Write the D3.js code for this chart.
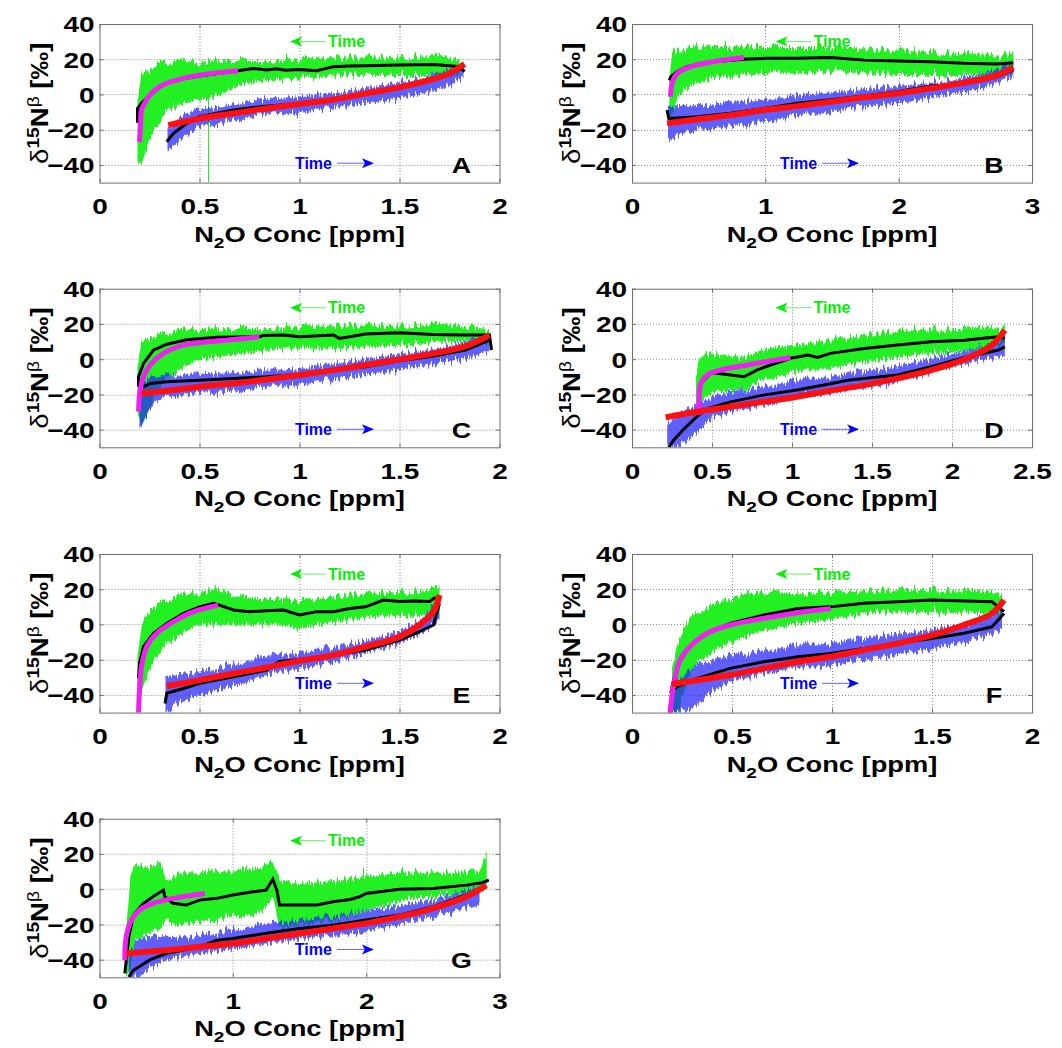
<!DOCTYPE html>
<html>
<head>
<meta charset="utf-8">
<script src="https://cdn.jsdelivr.net/npm/d3@7"></script>
<style>
body { margin: 0; background: #fff; }
svg text { font-family: "Liberation Sans", Arial, sans-serif; }
</style>
</head>
<body>
<div id="container"></div>
<script>
var width = 1062,
    height = 1048;

// ---- data ----
var panelLabels = ["A", "B", "C", "D", "E", "F", "G"];
var xMax = [2, 3, 2, 2.5, 2, 2, 3];
var xTicks = [
    [0, 0.5, 1, 1.5, 2], [0, 1, 2, 3], [0, 0.5, 1, 1.5, 2], [0, 0.5, 1, 1.5, 2, 2.5],
    [0, 0.5, 1, 1.5, 2], [0, 0.5, 1, 1.5, 2], [0, 1, 2, 3]
];
var yTicks = [-40, -20, 0, 20, 40];
var yDomain = [-50, 40];

// green raw data envelope (decreasing conc): [x, low, high]
var greenBand = [
    [[0.19,-38,-5],[0.21,-40,12],[0.25,-25,14],[0.3,-15,18],[0.35,-8,18],[0.4,-5,19],[0.5,-3,18],[0.6,0,19],[0.7,5,19],[0.8,8,19],[1.0,9,20],[1.2,11,21],[1.5,11,21],[1.7,11,22],[1.8,11,19]],
    [[0.28,-12,10],[0.3,-12,24],[0.35,0,25],[0.4,3,26],[0.5,7,27],[0.7,10,27],[1.0,12,27],[1.5,13,27],[2.0,11,25],[2.5,11,23],[2.8,12,22],[2.86,13,24]],
    [[0.19,-30,-5],[0.21,-38,10],[0.25,-28,12],[0.3,-15,14],[0.4,-5,16],[0.5,0,17],[0.7,3,17],[0.9,6,18],[1.2,6,19],[1.5,8,19],[1.7,10,20],[1.95,10,17]],
    [[0.4,-25,-10],[0.42,-28,0],[0.45,-22,3],[0.5,-18,3],[0.6,-18,2],[0.7,-17,1],[0.8,-12,5],[1.0,-8,8],[1.2,-5,10],[1.5,-1,14],[1.8,3,17],[2.0,4,17],[2.2,6,18],[2.33,8,18]],
    [[0.19,-38,-20],[0.21,-38,0],[0.25,-25,8],[0.3,-15,12],[0.4,-5,16],[0.5,0,18],[0.6,0,20],[0.7,0,15],[0.9,0,15],[1.0,-2,13],[1.2,2,16],[1.4,5,18],[1.6,5,19],[1.7,8,21]],
    [[0.2,-50,-25],[0.23,-50,-10],[0.27,-35,0],[0.3,-25,5],[0.4,-15,10],[0.5,-10,15],[0.6,-5,18],[0.8,0,18],[1.0,3,18],[1.2,7,19],[1.5,7,20],[1.7,7,19],[1.85,5,18]],
    [[0.2,-50,-20],[0.23,-45,5],[0.27,-30,15],[0.35,-25,12],[0.45,-22,15],[0.5,-18,5],[0.6,-20,8],[0.8,-18,10],[1.0,-15,10],[1.2,-15,12],[1.3,-5,17],[1.35,-22,5],[1.5,-20,3],[1.8,-17,5],[2.0,-12,7],[2.3,-6,10],[2.6,-3,9],[2.85,-2,10],[2.9,0,20]]
];
// blue raw data envelope (increasing conc): [x, low, high]
var blueBand = [
    [[0.34,-32,-20],[0.4,-26,-12],[0.5,-18,-8],[0.6,-16,-7],[0.8,-12,-3],[1.0,-10,-1],[1.2,-7,1],[1.4,-4,5],[1.6,0,9],[1.75,5,14],[1.82,10,16]],
    [[0.27,-28,-8],[0.35,-22,-6],[0.5,-20,-6],[0.75,-18,-4],[1.0,-15,-3],[1.3,-12,0],[1.6,-8,2],[2.0,-5,5],[2.3,-1,7],[2.6,3,11],[2.8,8,16],[2.86,10,18]],
    [[0.2,-40,-15],[0.25,-28,-10],[0.3,-22,-9],[0.5,-19,-8],[0.8,-17,-7],[1.0,-14,-5],[1.2,-11,-2],[1.5,-6,3],[1.7,-2,6],[1.85,1,10],[1.95,5,14]],
    [[0.22,-50,-38],[0.3,-50,-30],[0.4,-42,-26],[0.5,-33,-21],[0.7,-28,-17],[1.0,-23,-13],[1.2,-19,-10],[1.4,-16,-7],[1.6,-14,-5],[1.8,-9,-1],[2.0,-4,3],[2.2,0,7],[2.33,2,12]],
    [[0.33,-50,-30],[0.4,-44,-28],[0.5,-40,-27],[0.7,-34,-22],[0.9,-27,-17],[1.1,-23,-14],[1.3,-17,-10],[1.5,-11,-4],[1.6,-6,2],[1.7,3,14]],
    [[0.2,-50,-32],[0.25,-50,-30],[0.3,-48,-24],[0.4,-38,-20],[0.5,-32,-17],[0.7,-27,-14],[1.0,-23,-10],[1.2,-19,-7],[1.5,-14,-3],[1.7,-9,1],[1.85,-3,8]],
    [[0.22,-50,-36],[0.3,-50,-28],[0.4,-44,-26],[0.5,-40,-27],[0.7,-37,-27],[1.0,-34,-23],[1.2,-32,-21],[1.5,-28,-17],[1.8,-26,-15],[2.0,-24,-12],[2.3,-19,-9],[2.6,-14,-4],[2.85,-8,2]]
];
// isolated green spikes: [x, low, high]
var greenSpikes = [
    [[0.545,-50,5]], [], [], [], [], [], [[1.98,-10,12],[2.9,0,21]]
];
// running mean of the green data (black)
var upperMean = [
    [[0.19,-16],[0.19,-8],[0.21,-5],[0.245,-1],[0.3,4],[0.336,6.3],[0.386,8.2],[0.5,10.5],[0.6,12],[0.69,13.5],[0.77,14.8],[0.835,13.9],[0.885,14.6],[0.93,13.8],[1.0,14.2],[1.085,13.5],[1.17,15.8],[1.25,16.2],[1.33,16.3],[1.5,16.7],[1.67,17],[1.75,16.3],[1.8,15.8],[1.825,13]],
    [[0.28,8],[0.29,10],[0.34,13],[0.41,15.8],[0.61,18.6],[0.84,20],[1.0,20.5],[1.24,20.5],[1.49,21],[1.74,19.5],[1.99,19],[2.24,18.6],[2.49,17.7],[2.74,17.3],[2.86,18]],
    [[0.195,-15.6],[0.195,-10],[0.22,-2.4],[0.27,5.2],[0.336,8.5],[0.436,11],[0.586,12.5],[0.8,12.7],[0.82,13.5],[0.92,13.7],[1.0,12.7],[1.17,13.7],[1.2,11.8],[1.33,14.3],[1.5,15],[1.67,14],[1.83,13.7],[1.95,13.7],[1.96,5.2]],
    [[0.417,-18.5],[0.43,-13.8],[0.49,-8],[0.53,-8],[0.616,-9],[0.7,-10],[0.78,-6.2],[0.866,-3.3],[0.99,0.5],[1.1,2.3],[1.16,1],[1.24,3.3],[1.45,6.1],[1.66,8],[1.87,9.9],[2.08,10.8],[2.18,11.8],[2.29,12.7],[2.33,11.8]],
    [[0.195,-30.6],[0.2,-22],[0.22,-12.6],[0.27,-5],[0.336,0.6],[0.42,6.3],[0.5,10],[0.57,12],[0.6,11],[0.67,8.2],[0.75,7.3],[0.835,7.8],[0.92,8.2],[1.0,5.4],[1.085,7.3],[1.17,7.3],[1.25,9.1],[1.33,10],[1.42,13.9],[1.5,13],[1.58,13.3],[1.65,13],[1.68,15.4]],
    [[0.19,-50.5],[0.2,-35.3],[0.225,-24],[0.276,-14.5],[0.326,-8.8],[0.41,-3.2],[0.49,0.6],[0.66,5.4],[0.83,9.1],[0.99,10],[1.16,12],[1.33,12.9],[1.5,13.9],[1.66,13.3],[1.8,12.9],[1.86,7.3]],
    [[0.19,-47.8],[0.22,-27],[0.254,-14.7],[0.33,-8.1],[0.4,-4.3],[0.48,-0.5],[0.49,-4.3],[0.55,-8],[0.65,-9],[0.75,-6.2],[0.88,-5.2],[1.0,-3.3],[1.15,-1.5],[1.25,-0.5],[1.3,5.6],[1.33,-0.5],[1.35,-9],[1.5,-9],[1.63,-9],[1.75,-7.1],[1.88,-5.8],[1.95,-4.3],[2.0,-2.4],[2.25,-0.1],[2.5,0.4],[2.75,2.3],[2.87,3.7],[2.92,5.2]]
];
// fit to the green data (magenta)
var upperFit = [
    [[0.2,-27],[0.205,-18],[0.21,-9],[0.23,-4],[0.245,-1.3],[0.3,4.4],[0.386,8.2],[0.5,11],[0.6,12.5],[0.694,13.5]],
    [[0.29,-1.3],[0.3,6.3],[0.34,12],[0.44,15.8],[0.61,18.6],[0.84,21]],
    [[0.195,-29.8],[0.203,-17.5],[0.22,-10],[0.253,-3.3],[0.32,3.3],[0.42,8],[0.586,10.3],[0.8,12.7]],
    [[0.417,-31.7],[0.42,-21],[0.43,-13.8],[0.47,-9],[0.553,-6.2],[0.72,-3.3],[0.99,1]],
    [[0.195,-50.5],[0.2,-37.2],[0.21,-24],[0.236,-12.6],[0.286,-5],[0.37,1.6],[0.47,7.3],[0.594,11]],
    [[0.19,-50],[0.21,-33.4],[0.24,-20.2],[0.29,-12.6],[0.376,-5],[0.49,-0.3],[0.66,3.5],[0.83,6.7],[0.994,9.1]],
    [[0.19,-40.3],[0.2,-27],[0.24,-17.5],[0.3,-11.9],[0.4,-8.1],[0.55,-5.2],[0.79,-2.4]]
];
// running mean of the blue data (black)
var lowerMean = [
    [[0.336,-26.8],[0.37,-22],[0.436,-16.4],[0.5,-12.6],[0.67,-8.8],[0.835,-6.6],[1.0,-5],[1.17,-2.8],[1.33,0.6],[1.5,4],[1.67,8.8],[1.75,12],[1.82,15]],
    [[0.263,-8.8],[0.276,-13.6],[0.49,-12.6],[0.74,-10.7],[0.99,-7.9],[1.24,-5],[1.49,-3],[1.74,-0.8],[1.99,1.6],[2.24,4.8],[2.49,6],[2.74,10],[2.86,14]],
    [[0.203,-16.6],[0.253,-13.8],[0.336,-12.8],[0.5,-11.9],[0.67,-10.9],[0.835,-10],[1.0,-8.5],[1.17,-6.2],[1.33,-4.3],[1.5,-0.9],[1.67,1.8],[1.83,5.2],[1.95,10.8]],
    [[0.23,-50],[0.26,-46],[0.32,-40],[0.4,-33],[0.47,-28],[0.616,-24.2],[0.82,-20.4],[1.03,-17.5],[1.2,-14.7],[1.35,-11.9],[1.45,-10.9],[1.66,-9],[1.87,-4.3],[2.08,1],[2.29,5.2],[2.33,7]],
    [[0.328,-44.8],[0.336,-39],[0.42,-36.3],[0.5,-33.4],[0.67,-29.7],[0.835,-25.9],[0.9,-21],[1.0,-19.8],[1.17,-17.4],[1.33,-14.5],[1.5,-8.8],[1.6,-4],[1.67,-0.3],[1.7,12]],
    [[0.19,-39],[0.225,-35.3],[0.326,-30.6],[0.49,-24.9],[0.66,-21.1],[0.83,-18.3],[0.994,-16.4],[1.16,-13.6],[1.33,-10.7],[1.5,-7.9],[1.66,-5],[1.8,-1.3],[1.86,6.3]],
    [[0.22,-49.7],[0.254,-46],[0.38,-40],[0.5,-36.5],[0.75,-32.7],[0.88,-29],[1.0,-28],[1.25,-25],[1.5,-22.3],[1.75,-20.4],[2.0,-17.5],[2.25,-14.7],[2.5,-10],[2.75,-3.3],[2.87,-0.1]]
];
// fit to the blue data (red)
var lowerFit = [
    [[0.344,-17.4],[0.5,-13.6],[0.67,-10.7],[0.835,-7.9],[1.0,-5.4],[1.17,-2.8],[1.33,0.6],[1.5,4],[1.67,8.8],[1.75,12],[1.825,17.3]],
    [[0.263,-16.4],[0.49,-14.1],[0.74,-11.7],[0.99,-8.8],[1.24,-6.6],[1.49,-4.1],[1.74,-1.6],[1.99,0.6],[2.24,3.5],[2.49,6.7],[2.74,11],[2.86,15.4]],
    [[0.21,-19.4],[0.336,-17.9],[0.5,-15.6],[0.67,-13.8],[0.835,-11.5],[1.0,-9],[1.17,-6.2],[1.33,-3.3],[1.5,-0.1],[1.67,3.3],[1.83,7.4],[1.95,13.7]],
    [[0.21,-33],[0.407,-29.8],[0.616,-27],[0.82,-24.2],[1.03,-21.3],[1.24,-17.9],[1.45,-14.7],[1.66,-10.9],[1.87,-6.2],[2.08,-0.1],[2.25,8],[2.33,16.5]],
    [[0.336,-35],[0.5,-31.6],[0.67,-27.8],[0.835,-24.4],[1.0,-20.6],[1.17,-17.4],[1.33,-12.6],[1.5,-6.9],[1.6,-0.3],[1.67,7.3],[1.7,16.7]],
    [[0.2,-33.8],[0.326,-31.6],[0.49,-28.7],[0.66,-24.9],[0.83,-21.1],[0.994,-18.3],[1.16,-14.5],[1.33,-10.7],[1.5,-6],[1.66,-0.3],[1.8,6.3],[1.86,13.9]],
    [[0.2,-36.5],[0.5,-34.6],[0.75,-32.7],[1.0,-30.8],[1.25,-28],[1.5,-25.1],[1.75,-22.3],[2.0,-19.4],[2.25,-15.6],[2.5,-10.9],[2.75,-4.3],[2.9,2.3]]
];
// "Time" annotations (text start, in data units)
var greenNoteX = [1.143, 1.361, 1.143, 1.134, 1.143, 0.907, 1.714];
var greenNoteY = [30, 30, 29.2, 29.2, 28.6, 28.6, 27.5];
var blueNoteX = [0.977, 1.11, 0.977, 0.925, 0.977, 0.74, 1.465];
var blueNoteY = [-39, -39, -39.8, -39.8, -33.4, -33.4, -34.2];

// ---- layout ----
var colX = [99.5, 632],
    rowY = [24, 288.7, 554, 818.7],
    pw = 400,
    ph = 158.6,
    sx = 1.27; // labels in the figure are drawn horizontally stretched

var svg = d3.select("#container").append("svg")
    .attr("width", width)
    .attr("height", height);

// streaky texture for the raw-data envelopes (vertical displacement only)
var defs = svg.append("defs");
var flt = defs.append("filter").attr("id", "streak")
    .attr("x", "-2%").attr("y", "-30%").attr("width", "104%").attr("height", "160%");
flt.append("feTurbulence").attr("type", "fractalNoise")
    .attr("baseFrequency", "0.45 0.015").attr("numOctaves", 2).attr("seed", 7).attr("result", "t");
flt.append("feColorMatrix").attr("in", "t").attr("type", "matrix")
    .attr("values", "0 0 0 0 0.5  0 1 0 0 0  0 0 0 0 0  0 0 0 0 1").attr("result", "m");
flt.append("feDisplacementMap").attr("in", "SourceGraphic").attr("in2", "m")
    .attr("scale", 16).attr("xChannelSelector", "R").attr("yChannelSelector", "G");

var frameColor = "#6e6e6e";

panelLabels.forEach(function (lab, i) {
    var left = colX[i % 2],
        top = rowY[Math.floor(i / 2)];
    var g = svg.append("g").attr("transform", "translate(" + left + "," + top + ")");

    var x = d3.scaleLinear().domain([0, xMax[i]]).range([0, pw]);
    var y = d3.scaleLinear().domain(yDomain).range([ph, 0]);

    g.append("clipPath").attr("id", "clip" + i)
        .append("rect").attr("width", pw).attr("height", ph);

    g.append("rect").attr("width", pw).attr("height", ph).attr("fill", "#fff");

    // grid
    g.selectAll(".gx").data(xTicks[i].slice(1, -1)).enter().append("line")
        .attr("x1", d => Math.round(x(d)) + 0.5).attr("x2", d => Math.round(x(d)) + 0.5)
        .attr("y1", 0).attr("y2", ph)
        .attr("stroke", "#8a8a8a").attr("stroke-dasharray", "1,2");
    g.selectAll(".gy").data(yTicks.slice(0, -1)).enter().append("line")
        .attr("y1", d => Math.round(y(d)) + 0.5).attr("y2", d => Math.round(y(d)) + 0.5)
        .attr("x1", 0).attr("x2", pw)
        .attr("stroke", "#8a8a8a").attr("stroke-dasharray", "1,2");

    var plot = g.append("g").attr("clip-path", "url(#clip" + i + ")");

    var band = d3.area()
        .x(d => x(d[0])).y0(d => y(d[1])).y1(d => y(d[2]));
    var line = d3.line().x(d => x(d[0])).y(d => y(d[1]));
    var smooth = d3.line().x(d => x(d[0])).y(d => y(d[1])).curve(d3.curveCatmullRom.alpha(0.5));

    plot.append("path").attr("d", band(greenBand[i]))
        .attr("fill", "#22f022").attr("filter", "url(#streak)");
    plot.selectAll(".spike").data(greenSpikes[i]).enter().append("line")
        .attr("x1", d => x(d[0])).attr("x2", d => x(d[0]))
        .attr("y1", d => y(d[1])).attr("y2", d => y(d[2]))
        .attr("stroke", "#22ee22").attr("stroke-width", 1);
    plot.append("path").attr("d", band(blueBand[i]))
        .attr("fill", "#2020ff").attr("fill-opacity", 0.72).attr("filter", "url(#streak)");

    plot.append("path").attr("d", line(upperMean[i]))
        .attr("fill", "none").attr("stroke", "#000").attr("stroke-width", 3);
    plot.append("path").attr("d", line(lowerMean[i]))
        .attr("fill", "none").attr("stroke", "#000").attr("stroke-width", 3);
    plot.append("path").attr("d", smooth(upperFit[i]))
        .attr("fill", "none").attr("stroke", "#f020f0").attr("stroke-width", 5);
    plot.append("path").attr("d", smooth(lowerFit[i]))
        .attr("fill", "none").attr("stroke", "#ff1010").attr("stroke-width", 6);

    // axes with inward ticks
    var tickStyle = function (a) {
        a.select(".domain").remove();
        a.selectAll(".tick line").attr("stroke", frameColor);
    };
    var xb = g.append("g").attr("transform", "translate(0," + ph + ")")
        .call(d3.axisBottom(x).tickValues(xTicks[i]).tickSize(-4).tickFormat(d => String(d)))
        .call(tickStyle);
    xb.selectAll("text")
        .attr("y", 31.5).attr("dy", null)
        .attr("transform", "scale(" + sx + ",1)")
        .attr("font-size", 22).attr("font-weight", "bold").attr("fill", "#000")
        .attr("font-family", "Liberation Sans, Arial, sans-serif");
    g.append("g")
        .call(d3.axisTop(x).tickValues(xTicks[i]).tickSize(-4).tickFormat(""))
        .call(tickStyle);
    var yl = g.append("g")
        .call(d3.axisLeft(y).tickValues(yTicks).tickSize(-4))
        .call(tickStyle);
    yl.selectAll("text")
        .attr("x", -5 / sx).attr("dy", "0.36em")
        .attr("transform", "scale(" + sx + ",1)")
        .attr("font-size", 22).attr("font-weight", "bold").attr("fill", "#000")
        .attr("font-family", "Liberation Sans, Arial, sans-serif");
    g.append("g").attr("transform", "translate(" + pw + ",0)")
        .call(d3.axisRight(y).tickValues(yTicks).tickSize(-4).tickFormat(""))
        .call(tickStyle);

    g.append("rect").attr("x", 0.5).attr("y", 0.5).attr("width", pw).attr("height", ph)
        .attr("fill", "none").attr("stroke", frameColor).attr("stroke-width", 1);

    // axis titles
    var xt = g.append("text")
        .attr("transform", "translate(" + (pw / 2) + "," + (ph + 59) + ") scale(" + sx + ",1)")
        .attr("text-anchor", "middle").attr("font-size", 21.5).attr("font-weight", "bold");
    xt.append("tspan").text("N");
    xt.append("tspan").attr("dy", 6).attr("font-size", 15).text("2");
    xt.append("tspan").attr("dy", -6).text("O Conc [ppm]");

    var ytl = g.append("text")
        .attr("transform", "translate(-52," + (ph / 2) + ") rotate(-90) scale(1.2,1)")
        .attr("text-anchor", "middle").attr("font-size", 23).attr("font-weight", "bold");
    ytl.append("tspan").attr("font-weight", "normal").text("\u03b4");
    ytl.append("tspan").attr("dy", -9).attr("font-size", 16).text("15");
    ytl.append("tspan").attr("dy", 9).text("N");
    ytl.append("tspan").attr("dy", -9).attr("font-size", 16).attr("font-weight", "normal").text("\u03b2");
    ytl.append("tspan").attr("dy", 9).text(" [\u2030]");

    // panel letter
    g.append("text")
        .attr("transform", "translate(" + (pw * 0.905) + "," + (y(-40) + 8) + ") scale(1.22,1)")
        .attr("text-anchor", "middle").attr("font-size", 22).attr("font-weight", "bold")
        .text(lab);

    // "Time" annotations
    var gx = x(greenNoteX[i]), gy = y(greenNoteY[i]);
    g.append("text").attr("x", gx).attr("y", gy).attr("dy", "0.36em")
        .attr("font-size", 16).attr("font-weight", "bold").attr("fill", "#00f000")
        .text("Time");
    g.append("line").attr("x1", gx - 2).attr("x2", gx - 30).attr("y1", gy).attr("y2", gy)
        .attr("stroke", "#66f066").attr("stroke-width", 1);
    g.append("path")
        .attr("d", "M" + (gx - 38) + "," + gy + "L" + (gx - 26) + "," + (gy - 5) + "L" + (gx - 29) + "," + gy + "L" + (gx - 26) + "," + (gy + 5) + "Z")
        .attr("fill", "#00f000");

    var bx = x(blueNoteX[i]), by = y(blueNoteY[i]);
    var bt = g.append("text").attr("x", bx).attr("y", by).attr("dy", "0.36em")
        .attr("font-size", 16).attr("font-weight", "bold").attr("fill", "#0000ff")
        .text("Time");
    var be = bx + bt.node().getComputedTextLength();
    g.append("line").attr("x1", be + 5).attr("x2", be + 34).attr("y1", by).attr("y2", by)
        .attr("stroke", "#6666ff").attr("stroke-width", 1);
    g.append("path")
        .attr("d", "M" + (be + 42) + "," + by + "L" + (be + 30) + "," + (by - 5) + "L" + (be + 33) + "," + by + "L" + (be + 30) + "," + (by + 5) + "Z")
        .attr("fill", "#0000ff");
});
</script>
</body>
</html>
